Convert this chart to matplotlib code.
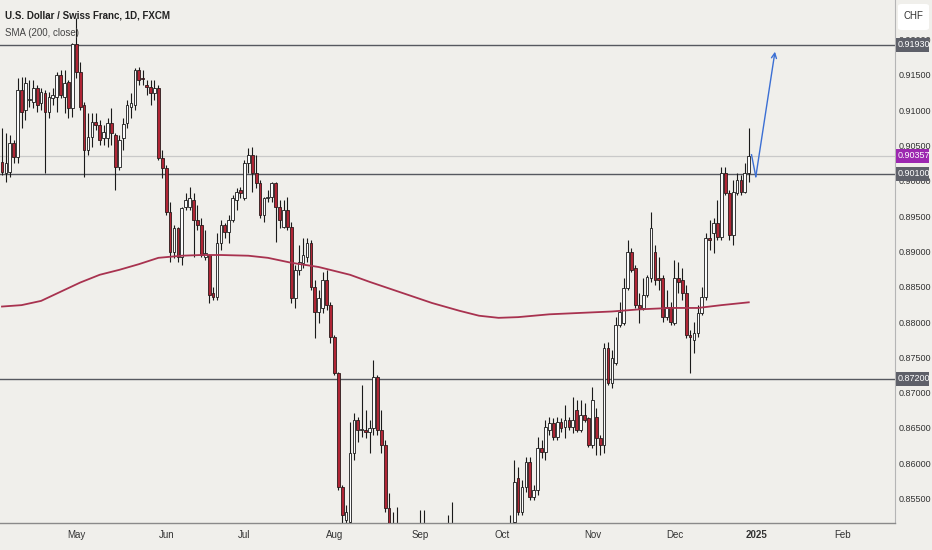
import matplotlib
matplotlib.use("Agg")
import matplotlib.pyplot as plt
import matplotlib.transforms as mtransforms
from matplotlib.patches import Rectangle, FancyBboxPatch
import numpy as np
import pandas as pd

plt.rcParams['font.family'] = ['Liberation Sans', 'DejaVu Sans']

# -----------------------------
# DATA (USD/CHF daily)
# -----------------------------
opens = [
    0.9027, 0.9011, 0.9013, 0.9054, 0.9034, 0.9129, 0.9100, 0.9115, 0.9112, 0.9132,
    0.9110, 0.9125, 0.9098, 0.9117, 0.9119, 0.9150, 0.9119, 0.9140, 0.9103, 0.9194,
    0.9154, 0.9108, 0.9044, 0.9062, 0.9083, 0.9079, 0.9061, 0.9061, 0.9082, 0.9065,
    0.9020, 0.9061, 0.9082, 0.9105, 0.9108, 0.9157, 0.9146, 0.9136, 0.9133, 0.9125,
    0.9132, 0.9032, 0.9018, 0.8956, 0.8899, 0.8933, 0.8892, 0.8963, 0.8963, 0.8973,
    0.8945, 0.8938, 0.8892, 0.8895, 0.8841, 0.8836, 0.8912, 0.8938, 0.8928, 0.8945,
    0.8973, 0.8987, 0.8976, 0.9025, 0.9037, 0.9011, 0.8997, 0.8952, 0.8976, 0.8977,
    0.8997, 0.8963, 0.8935, 0.8959, 0.8935, 0.8834, 0.8874, 0.8884, 0.8892, 0.8912,
    0.8850, 0.8814, 0.8820, 0.8860, 0.8824, 0.8779, 0.8728, 0.8566, 0.8520, 0.8517,
    0.8615, 0.8661, 0.8647, 0.8647, 0.8644, 0.8650, 0.8722, 0.8647, 0.8626, 0.8537,
    0.8498, 0.8491, 0.8484, 0.8475, 0.8460, 0.8480, 0.8465, 0.8490, 0.8495, 0.8480,
    0.8455, 0.8440, 0.8430, 0.8465, 0.8480, 0.8470, 0.8495, 0.8475, 0.8455, 0.8445,
    0.8470, 0.8490, 0.8480, 0.8460, 0.8480, 0.8440, 0.8450, 0.8460, 0.8455, 0.8480,
    0.8484, 0.8517, 0.8579, 0.8531, 0.8566, 0.8602, 0.8552, 0.8562, 0.8622, 0.8616,
    0.8647, 0.8657, 0.8637, 0.8659, 0.8651, 0.8661, 0.8651, 0.8676, 0.8647, 0.8668,
    0.8664, 0.8626, 0.8666, 0.8636, 0.8626, 0.8763, 0.8714, 0.8742, 0.8796, 0.8799,
    0.8848, 0.8899, 0.8877, 0.8824, 0.8820, 0.8838, 0.8862, 0.8899, 0.8862, 0.8862,
    0.8807, 0.8821, 0.8799, 0.8862, 0.8860, 0.8841, 0.8782, 0.8775, 0.8785, 0.8813,
    0.8836, 0.8919, 0.8926, 0.8940, 0.8921, 0.9011, 0.8983, 0.8923, 0.8983, 0.9001,
    0.8984, 0.9011,
]
highs = [
    0.9075, 0.9068, 0.9065, 0.9058, 0.9146, 0.9147, 0.9147, 0.9143, 0.9143, 0.9136,
    0.9132, 0.9129, 0.9126, 0.9132, 0.9154, 0.9157, 0.9157, 0.9143, 0.9195, 0.9231,
    0.9168, 0.9112, 0.9096, 0.9096, 0.9096, 0.9086, 0.9079, 0.9089, 0.9103, 0.9068,
    0.9065, 0.9089, 0.9115, 0.9125, 0.9160, 0.9161, 0.9157, 0.9143, 0.9143, 0.9143,
    0.9136, 0.9044, 0.9023, 0.8970, 0.8938, 0.8935, 0.8963, 0.8983, 0.8991, 0.8983,
    0.8966, 0.8947, 0.8930, 0.8897, 0.8850, 0.8926, 0.8945, 0.8940, 0.8952, 0.8980,
    0.8990, 0.8991, 0.9030, 0.9047, 0.9048, 0.9037, 0.9001, 0.8977, 0.8987, 0.8998,
    0.8998, 0.8973, 0.8973, 0.8977, 0.8942, 0.8881, 0.8909, 0.8919, 0.8919, 0.8916,
    0.8860, 0.8845, 0.8871, 0.8874, 0.8829, 0.8782, 0.8729, 0.8569, 0.8541, 0.8659,
    0.8671, 0.8666, 0.8711, 0.8676, 0.8661, 0.8746, 0.8725, 0.8676, 0.8633, 0.8558,
    0.8531, 0.8538, 0.8505, 0.8500, 0.8495, 0.8505, 0.8500, 0.8534, 0.8534, 0.8500,
    0.8480, 0.8470, 0.8480, 0.8500, 0.8527, 0.8545, 0.8505, 0.8490, 0.8475, 0.8480,
    0.8505, 0.8505, 0.8500, 0.8495, 0.8500, 0.8470, 0.8480, 0.8490, 0.8505, 0.8510,
    0.8527, 0.8605, 0.8595, 0.8576, 0.8609, 0.8609, 0.8569, 0.8637, 0.8633, 0.8661,
    0.8666, 0.8664, 0.8666, 0.8664, 0.8683, 0.8666, 0.8694, 0.8690, 0.8690, 0.8685,
    0.8666, 0.8708, 0.8678, 0.8640, 0.8770, 0.8772, 0.8760, 0.8807, 0.8829, 0.8863,
    0.8916, 0.8905, 0.8881, 0.8841, 0.8863, 0.8867, 0.8956, 0.8909, 0.8892, 0.8867,
    0.8845, 0.8829, 0.8888, 0.8885, 0.8877, 0.8853, 0.8789, 0.8800, 0.8824, 0.8850,
    0.8926, 0.8945, 0.8947, 0.8973, 0.9020, 0.9020, 0.8987, 0.9001, 0.9011, 0.9008,
    0.9025, 0.9075,
]
lows = [
    0.9008, 0.8998, 0.9006, 0.9025, 0.9025, 0.9075, 0.9086, 0.9105, 0.9103, 0.9098,
    0.9100, 0.9011, 0.9089, 0.9108, 0.9098, 0.9117, 0.9096, 0.9089, 0.9091, 0.9146,
    0.9100, 0.9006, 0.9037, 0.9048, 0.9072, 0.9051, 0.9051, 0.9048, 0.9051, 0.8987,
    0.9015, 0.9044, 0.9075, 0.9089, 0.9100, 0.9136, 0.9136, 0.9122, 0.9108, 0.9115,
    0.9030, 0.9004, 0.8952, 0.8885, 0.8891, 0.8885, 0.8881, 0.8959, 0.8959, 0.8892,
    0.8930, 0.8892, 0.8888, 0.8827, 0.8831, 0.8831, 0.8902, 0.8919, 0.8912, 0.8942,
    0.8959, 0.8976, 0.8973, 0.9011, 0.8984, 0.8990, 0.8947, 0.8942, 0.8970, 0.8970,
    0.8913, 0.8933, 0.8933, 0.8930, 0.8827, 0.8820, 0.8867, 0.8877, 0.8885, 0.8845,
    0.8778, 0.8799, 0.8813, 0.8817, 0.8770, 0.8725, 0.8562, 0.8435, 0.8506, 0.8506,
    0.8605, 0.8630, 0.8637, 0.8636, 0.8615, 0.8640, 0.8640, 0.8615, 0.8531, 0.8484,
    0.8477, 0.8470, 0.8455, 0.8440, 0.8450, 0.8455, 0.8445, 0.8470, 0.8465, 0.8445,
    0.8420, 0.8400, 0.8420, 0.8440, 0.8460, 0.8455, 0.8460, 0.8440, 0.8420, 0.8410,
    0.8450, 0.8460, 0.8440, 0.8430, 0.8420, 0.8410, 0.8430, 0.8440, 0.8435, 0.8460,
    0.8477, 0.8513, 0.8527, 0.8527, 0.8559, 0.8548, 0.8548, 0.8555, 0.8608, 0.8605,
    0.8640, 0.8633, 0.8633, 0.8644, 0.8636, 0.8647, 0.8643, 0.8644, 0.8644, 0.8659,
    0.8623, 0.8622, 0.8612, 0.8612, 0.8615, 0.8711, 0.8707, 0.8739, 0.8793, 0.8796,
    0.8845, 0.8871, 0.8820, 0.8799, 0.8817, 0.8836, 0.8857, 0.8853, 0.8845, 0.8800,
    0.8803, 0.8796, 0.8796, 0.8841, 0.8831, 0.8778, 0.8728, 0.8756, 0.8779, 0.8810,
    0.8831, 0.8902, 0.8898, 0.8916, 0.8916, 0.8980, 0.8916, 0.8909, 0.8980, 0.8980,
    0.8983, 0.8998,
]
closes = [
    0.9013, 0.9025, 0.9054, 0.9034, 0.9129, 0.9098, 0.9139, 0.9116, 0.9132, 0.9108,
    0.9126, 0.9098, 0.9119, 0.9122, 0.9150, 0.9122, 0.9139, 0.9103, 0.9194, 0.9154,
    0.9105, 0.9044, 0.9062, 0.9083, 0.9079, 0.9058, 0.9069, 0.9082, 0.9068, 0.9020,
    0.9058, 0.9081, 0.9108, 0.9110, 0.9157, 0.9143, 0.9145, 0.9133, 0.9125, 0.9132,
    0.9032, 0.9018, 0.8956, 0.8899, 0.8933, 0.8892, 0.8962, 0.8973, 0.8976, 0.8945,
    0.8938, 0.8895, 0.8898, 0.8838, 0.8836, 0.8912, 0.8938, 0.8928, 0.8945, 0.8976,
    0.8984, 0.8983, 0.9025, 0.9037, 0.9011, 0.8997, 0.8952, 0.8976, 0.8977, 0.8997,
    0.8963, 0.8945, 0.8959, 0.8935, 0.8834, 0.8874, 0.8885, 0.8895, 0.8912, 0.8850,
    0.8814, 0.8834, 0.8860, 0.8824, 0.8779, 0.8728, 0.8566, 0.8527, 0.8531, 0.8615,
    0.8661, 0.8647, 0.8649, 0.8644, 0.8650, 0.8722, 0.8647, 0.8626, 0.8537, 0.8498,
    0.8491, 0.8484, 0.8475, 0.8460, 0.8480, 0.8465, 0.8490, 0.8495, 0.8480, 0.8455,
    0.8440, 0.8430, 0.8465, 0.8480, 0.8470, 0.8495, 0.8475, 0.8455, 0.8445, 0.8470,
    0.8490, 0.8480, 0.8460, 0.8480, 0.8440, 0.8450, 0.8460, 0.8455, 0.8480, 0.8500,
    0.8506, 0.8574, 0.8531, 0.8566, 0.8602, 0.8552, 0.8562, 0.8622, 0.8616, 0.8651,
    0.8657, 0.8637, 0.8659, 0.8650, 0.8661, 0.8651, 0.8661, 0.8647, 0.8668, 0.8661,
    0.8626, 0.8690, 0.8636, 0.8626, 0.8763, 0.8714, 0.8749, 0.8796, 0.8814, 0.8848,
    0.8899, 0.8874, 0.8824, 0.8820, 0.8838, 0.8864, 0.8933, 0.8860, 0.8860, 0.8807,
    0.8821, 0.8800, 0.8862, 0.8857, 0.8841, 0.8782, 0.8779, 0.8785, 0.8813, 0.8836,
    0.8919, 0.8916, 0.8940, 0.8921, 0.9011, 0.8983, 0.8923, 0.8984, 0.9001, 0.8984,
    0.9011, 0.90357,
]

# SMA(200)
sma_bars = [0, 5, 10, 15, 20, 25, 30, 35, 40, 46, 51, 56, 63, 68, 74, 81, 89, 94,
            102, 110, 117, 122, 127, 132, 140, 148, 156, 163, 171, 178, 184, 191]
sma_vals = [0.8822, 0.8824, 0.8830, 0.8843, 0.8856, 0.8867, 0.8874, 0.8882, 0.8891,
            0.8894, 0.8895, 0.8895, 0.8894, 0.8891, 0.8884, 0.8878, 0.8867, 0.8857,
            0.8842, 0.8827, 0.8816, 0.8809, 0.8806, 0.8807, 0.8811, 0.8813, 0.8815,
            0.8818, 0.8820, 0.8820, 0.8824, 0.8828]

# horizontal levels drawn on the chart
levels = [0.91930, 0.90100, 0.87200]

# projected path (blue arrow), bar index / price
path_bars = [191.7, 192.8, 197.7]
path_prices = [0.9037, 0.9006, 0.9183]

# trading days (FX, no Christmas / New Year bars)
dates = pd.bdate_range("2024-04-04", "2025-03-31")
dates = dates[~dates.isin(pd.to_datetime(["2024-12-25", "2025-01-01"]))]

# -----------------------------
# STYLE
# -----------------------------
bg = "#f0efeb"
red = "#b02535"
white = "#fbfbfb"
sma_color = "#a8324f"
level_color = "#56585f"
badge_grey = "#5e6069"

fig = plt.figure(figsize=(9.32, 5.5), dpi=100)
fig.patch.set_facecolor(bg)
ax = fig.add_axes([0, 27 / 550, 895 / 932, 523 / 550])
ax.set_facecolor(bg)

x = np.arange(len(closes))
o = np.array(opens)
c = np.array(closes)
up = c >= o

# wicks
ax.vlines(x, lows, highs, color="#1a1a1a", linewidth=0.8, zorder=2)
# bodies
body_bottom = np.minimum(o, c)
body_height = np.maximum(np.abs(c - o), 0.00006)
ax.bar(x[up], body_height[up], bottom=body_bottom[up], width=0.7,
       color=white, edgecolor="#1a1a1a", linewidth=0.6, zorder=3)
ax.bar(x[~up], body_height[~up], bottom=body_bottom[~up], width=0.7,
       color=red, edgecolor="#2a1a1a", linewidth=0.6, zorder=3)

# SMA
ax.plot(sma_bars, sma_vals, color=sma_color, linewidth=1.3, zorder=4)

# levels
for lv in levels:
    ax.axhline(lv, color=level_color, linewidth=1.0, zorder=1)
ax.axhline(closes[-1], color="#c9c9c9", linewidth=0.9, zorder=1)

# arrow
ax.plot(path_bars[:2], path_prices[:2], color="#3b6fd4", linewidth=1.0, zorder=5)
ax.annotate("", xy=(path_bars[2], path_prices[2]), xytext=(path_bars[1], path_prices[1]),
            arrowprops=dict(arrowstyle="->", color="#3b6fd4", lw=1.0,
                            shrinkA=0, shrinkB=0, mutation_scale=9), zorder=5)

ax.set_xlim(-0.51, 228.4)
ax.set_ylim(0.85154, 0.92562)

# -----------------------------
# AXES
# -----------------------------
for s in ["top", "left"]:
    ax.spines[s].set_visible(False)
ax.spines["right"].set_color("#b5b5b5")
ax.spines["right"].set_linewidth(0.8)
ax.spines["bottom"].set_color("#8a8a8a")
ax.spines["bottom"].set_linewidth(1.0)

month_idx, month_lab = [], []
for i in range(1, len(dates)):
    if dates[i].month != dates[i - 1].month and i < 226:
        month_idx.append(i)
        month_lab.append(str(dates[i].year) if dates[i].month == 1 else dates[i].strftime("%b"))
ax.set_xticks(month_idx)
ax.set_xticklabels(month_lab)
for lab in ax.get_xticklabels():
    if lab.get_text() == "2025":
        lab.set_fontweight("bold")
ax.tick_params(axis="x", length=0, pad=5, labelsize=7, labelcolor="#333333")

yt = np.arange(0.855, 0.9201, 0.005)
ax.yaxis.tick_right()
ax.set_yticks(yt)
ax.set_yticklabels([f"{v:.5f}" for v in yt])
ax.tick_params(axis="y", length=0, pad=2.5, labelsize=6.5, labelcolor="#333333")

# price badges on the right scale
trans = mtransforms.blended_transform_factory(ax.transAxes, ax.transData)
half = 7 / 7060
badges = [(0.91930, badge_grey), (0.90100, badge_grey), (0.87200, badge_grey),
          (closes[-1], "#9c27b0")]
for val, col in badges:
    ax.add_patch(Rectangle((1.001, val - half), 0.037, 2 * half, transform=trans,
                           facecolor=col, edgecolor="none", clip_on=False, zorder=6))
    ax.text(1.0033, val, f"{val:.5f}", transform=trans, color="white", fontsize=6.5,
            ha="left", va="center", clip_on=False, zorder=7)

# currency box
fig.patches.append(FancyBboxPatch((898 / 932, 520 / 550), 31 / 932, 26 / 550,
                                  boxstyle="round,pad=0,rounding_size=0.004",
                                  transform=fig.transFigure, facecolor="white",
                                  edgecolor="none"))
fig.text(913 / 932, 1 - 16 / 550, "CHF", ha="center", va="center", fontsize=7, color="#333333")

# title
fig.text(5 / 932, 1 - 15 / 550, "U.S. Dollar / Swiss Franc, 1D, FXCM", fontsize=7,
         fontweight="bold", color="#222222", va="center")
fig.text(5 / 932, 1 - 33 / 550, "SMA (200, close)", fontsize=7, color="#444444", va="center")

plt.savefig("out.png", dpi=100, facecolor=bg)
